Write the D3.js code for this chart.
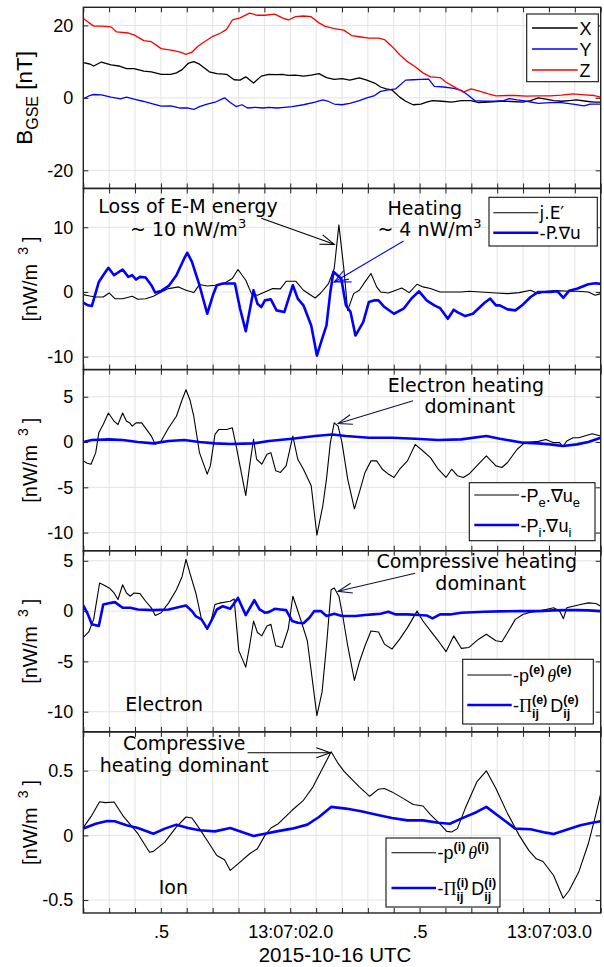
<!DOCTYPE html>
<html><head><meta charset="utf-8">
<script src="https://cdn.jsdelivr.net/npm/d3@7"></script>
<style>body{margin:0;background:#fff}svg{display:block}</style>
</head><body><svg id="c" width="604" height="967"></svg>
<script>
// ---- time axis (seconds after 13:07:00 UTC, 2015-10-16) ----
const xDomain = [1.2, 3.2];
const xTickVals = [1.5, 2.0, 2.5, 3.0];
const xTickLabels = [".5", "13:07:02.0", ".5", "13:07:03.0"];
const xLabel = "2015-10-16 UTC";

// ---- panel 1: B GSE ----
const bxT = [1.200,1.225,1.240,1.270,1.307,1.337,1.367,1.396,1.434,1.463,1.501,1.538,1.560,1.582,1.605,1.627,1.649,1.687,1.716,1.754,1.783,1.806,1.828,1.858,1.888,1.917,1.947,1.969,1.992,2.021,2.051,2.081,2.111,2.140,2.170,2.200,2.230,2.267,2.296,2.326,2.349,2.371,2.393,2.423,2.446,2.475,2.505,2.527,2.550,2.587,2.624,2.661,2.699,2.728,2.766,2.810,2.855,2.899,2.929,2.959,2.988,3.018,3.048,3.078,3.107,3.144,3.175,3.200];
const bxV = [9.7,9.35,8.8,9.9,9.1,8.8,8.1,8.1,7.4,7.2,6.5,6.5,6.9,7.8,9.5,10.0,9.3,7.2,6.7,6.5,5.0,4.9,5.8,4.1,6.0,6.5,6.4,6.5,6.2,6.3,6.0,6.3,6.7,5.6,5.1,5.3,4.9,5.5,4.9,4.1,3.0,2.5,2.2,0.2,-0.93,-1.9,-1.7,-1.2,-0.75,-0.93,-1.2,-0.75,-0.75,-1.3,-1.2,-0.93,-1.0,-1.2,-0.75,0.0,-0.37,-0.75,-0.93,-0.75,-0.56,-0.93,-1.2,-1.2];
const byT = [1.200,1.225,1.240,1.270,1.307,1.344,1.367,1.396,1.434,1.472,1.501,1.538,1.575,1.605,1.627,1.649,1.679,1.709,1.746,1.768,1.791,1.813,1.835,1.865,1.895,1.917,1.947,1.977,2.007,2.051,2.096,2.126,2.148,2.170,2.200,2.230,2.267,2.296,2.326,2.349,2.379,2.408,2.446,2.475,2.505,2.535,2.557,2.594,2.632,2.661,2.684,2.713,2.751,2.795,2.825,2.847,2.877,2.914,2.959,3.004,3.048,3.093,3.135,3.159,3.200];
const byV = [-0.28,0.65,0.93,0.84,0.19,-0.28,0.19,-0.37,-1.0,-1.7,-2.3,-2.2,-2.8,-2.8,-3.2,-2.4,-1.7,-1.2,0.0,-1.3,-2.4,-1.9,-2.8,-2.6,-2.8,-2.6,-2.8,-2.6,-2.4,-1.9,-1.2,-0.56,-1.0,-1.7,-1.9,-1.5,-0.75,0.0,0.65,1.8,2.2,2.5,4.9,5.0,5.1,5.2,3.2,3.0,2.6,2.1,0.93,-0.75,-0.93,-0.93,-0.75,-0.19,-0.56,-0.93,-1.5,-1.3,-1.3,-1.7,-2.2,-1.7,-1.7];
const bzT = [1.200,1.240,1.270,1.307,1.329,1.374,1.396,1.434,1.463,1.501,1.545,1.575,1.597,1.620,1.642,1.664,1.701,1.731,1.754,1.776,1.806,1.843,1.873,1.902,1.940,1.969,1.992,2.021,2.051,2.081,2.111,2.133,2.170,2.207,2.237,2.274,2.304,2.341,2.364,2.393,2.423,2.453,2.483,2.513,2.542,2.580,2.602,2.632,2.669,2.699,2.728,2.766,2.795,2.840,2.870,2.914,2.959,3.004,3.048,3.093,3.138,3.175,3.200];
const bzV = [21.9,19.8,19.8,19.6,18.2,17.9,17.4,15.8,15.5,13.6,13.1,12.6,12.0,12.6,14.2,15.3,17.0,17.9,18.9,21.5,22.1,23.4,22.8,22.8,23.1,22.1,21.5,22.4,22.6,22.4,20.7,19.8,19.1,18.7,17.2,16.8,16.5,16.5,16.1,14.2,11.9,10.0,8.6,6.9,5.8,5.6,4.3,3.1,1.6,2.5,1.9,1.1,0.56,0.65,0.65,0.47,0.56,0.56,0.75,1.1,0.84,0.65,0.19];

// ---- panel 2: j.E' and -P.grad u ----
const jeT = [1.200,1.225,1.248,1.277,1.300,1.322,1.352,1.389,1.411,1.441,1.471,1.501,1.530,1.568,1.597,1.627,1.649,1.679,1.709,1.739,1.776,1.798,1.828,1.850,1.873,1.902,1.932,1.962,1.984,2.021,2.051,2.096,2.118,2.148,2.170,2.188,2.207,2.222,2.245,2.267,2.289,2.312,2.334,2.349,2.379,2.408,2.431,2.460,2.490,2.513,2.542,2.579,2.617,2.661,2.691,2.736,2.795,2.840,2.885,2.929,2.959,2.988,3.026,3.078,3.108,3.152,3.179,3.200];
const jeV = [-0.41,-0.62,-0.78,-0.78,-0.16,-1.04,-1.04,-0.67,-1.14,-1.04,-0.67,0.0,0.52,0.78,0.26,-0.10,1.14,0.93,1.04,1.19,2.07,3.47,1.81,-0.26,-0.52,0.0,0.52,0.47,1.66,1.66,0.26,-0.93,-0.16,1.30,3.63,10.36,3.63,-2.85,-0.26,0.26,1.55,2.85,0.78,0.0,-0.16,0.26,0.62,-0.10,1.19,0.78,0.52,0.0,0.0,0.0,0.10,0.0,-0.16,-0.26,-0.10,0.26,-0.26,0.10,0.21,0.10,0.10,0.0,-0.52,-0.26];
const pduT = [1.200,1.218,1.233,1.260,1.277,1.297,1.319,1.352,1.374,1.389,1.404,1.419,1.441,1.463,1.478,1.501,1.530,1.560,1.590,1.602,1.620,1.649,1.679,1.701,1.716,1.739,1.768,1.786,1.806,1.828,1.858,1.873,1.888,1.902,1.925,1.947,1.977,2.010,2.029,2.051,2.081,2.103,2.123,2.140,2.155,2.167,2.182,2.197,2.215,2.233,2.252,2.282,2.304,2.326,2.341,2.364,2.401,2.438,2.468,2.498,2.527,2.557,2.579,2.609,2.632,2.646,2.676,2.706,2.751,2.773,2.795,2.810,2.840,2.870,2.899,2.929,2.959,3.004,3.033,3.056,3.078,3.108,3.152,3.180,3.200];
const pduV = [-1.66,-2.07,-2.18,1.55,2.59,3.73,2.59,3.47,2.33,2.59,1.92,2.33,2.23,1.04,-0.10,0.16,0.93,2.59,5.18,6.06,4.66,1.04,-3.37,-0.52,1.04,1.30,1.30,1.30,-2.59,-6.06,0.26,-1.81,-2.33,-1.30,-1.14,-2.85,-3.11,1.04,-1.04,-2.07,-5.18,-9.84,-7.25,-5.18,0.0,3.11,2.59,2.07,-2.07,-3.11,-6.74,-4.66,-1.55,-1.30,-1.30,-2.33,-3.37,-2.59,-1.04,0.10,-1.30,-2.07,-2.49,-4.15,-2.75,-3.11,-3.73,-3.37,-1.66,-1.04,-2.07,-2.07,-2.69,-2.85,-1.97,-0.78,0.0,0.0,0.10,-0.9,0.2,0.5,1.2,1.35,1.25];

// ---- panel 3: -Pe.grad ue, -Pi.grad ui ----
const peT = [1.200,1.215,1.230,1.248,1.260,1.277,1.297,1.319,1.334,1.352,1.367,1.379,1.389,1.404,1.426,1.449,1.463,1.478,1.501,1.530,1.560,1.582,1.597,1.612,1.627,1.649,1.679,1.691,1.709,1.724,1.754,1.776,1.791,1.813,1.828,1.843,1.858,1.870,1.890,1.910,1.925,1.944,1.962,1.984,2.010,2.029,2.051,2.081,2.103,2.126,2.140,2.155,2.170,2.185,2.200,2.222,2.248,2.267,2.289,2.312,2.334,2.356,2.379,2.401,2.423,2.453,2.483,2.513,2.542,2.572,2.602,2.624,2.646,2.669,2.691,2.721,2.758,2.795,2.818,2.840,2.877,2.907,2.929,2.959,2.988,3.018,3.041,3.054,3.069,3.093,3.115,3.138,3.167,3.200];
const peV = [-2.08,-2.34,-2.45,-1.17,1.02,1.93,3.21,2.30,1.93,3.21,2.30,2.12,1.75,2.12,2.12,1.20,0.66,-0.26,0.11,1.57,2.85,4.67,5.77,4.67,2.85,-1.17,-3.54,-2.63,0.84,1.39,1.39,1.57,-0.44,-3.72,-5.91,-2.63,0.29,-1.90,-2.45,-1.35,-1.17,-3.18,-3.36,-2.63,0.66,-1.90,-3.00,-4.82,-10.29,-7.01,-4.09,-0.07,2.12,1.75,-0.07,-4.09,-7.37,-5.55,-3.36,-2.08,-2.08,-3.00,-3.54,-3.91,-3.00,-2.08,-0.26,-0.99,-1.72,-3.00,-3.91,-3.00,-3.72,-3.91,-3.54,-2.63,-1.53,-2.63,-2.81,-2.26,-0.80,-0.07,0.0,0.07,0.29,-0.07,-0.07,-0.51,0.11,0.47,0.47,0.66,0.91,0.66];
const piT = [1.200,1.233,1.300,1.352,1.411,1.471,1.530,1.590,1.649,1.709,1.768,1.858,1.917,2.007,2.096,2.163,2.215,2.304,2.393,2.483,2.572,2.661,2.758,2.810,2.899,2.959,3.004,3.054,3.108,3.152,3.200];
const piV = [0.0,0.22,0.29,0.22,0.0,-0.15,0.11,0.22,0.0,-0.15,-0.22,-0.15,0.11,0.36,0.66,0.84,0.66,0.47,0.47,0.36,0.22,0.29,0.66,0.36,-0.07,-0.15,-0.26,-0.44,-0.26,0.0,0.47];

// ---- panel 4: electron pressure-strain ----
const pthET = [1.200,1.221,1.240,1.263,1.277,1.300,1.319,1.334,1.352,1.367,1.382,1.396,1.419,1.441,1.463,1.478,1.501,1.530,1.560,1.582,1.597,1.612,1.635,1.657,1.679,1.694,1.709,1.731,1.768,1.783,1.801,1.828,1.843,1.858,1.873,1.890,1.910,1.925,1.944,1.969,1.992,2.010,2.021,2.044,2.066,2.103,2.123,2.140,2.158,2.170,2.188,2.203,2.222,2.248,2.267,2.289,2.312,2.341,2.364,2.393,2.423,2.453,2.490,2.513,2.542,2.572,2.602,2.632,2.661,2.691,2.728,2.758,2.795,2.818,2.840,2.870,2.899,2.929,2.959,2.988,3.018,3.041,3.056,3.069,3.093,3.122,3.152,3.182,3.200];
const pthEV = [-2.62,-2.07,-0.82,2.79,2.62,2.30,1.80,1.15,2.62,1.80,1.48,1.80,1.74,0.98,0.33,-0.43,-0.16,0.82,2.13,3.44,5.15,3.77,1.80,-0.82,-1.80,-0.98,0.66,0.82,0.98,1.21,-3.93,-5.57,-3.44,-0.98,-2.13,-2.46,-1.48,-1.31,-3.44,-3.61,-1.80,1.48,0.66,-1.15,-2.95,-10.39,-8.03,-3.44,2.13,2.30,1.48,-0.49,-3.44,-6.89,-5.08,-3.44,-1.97,-2.07,-3.28,-3.77,-2.79,-1.64,0.0,-0.98,-1.97,-2.95,-4.03,-2.46,-3.70,-3.61,-2.79,-2.30,-2.95,-3.05,-2.13,-0.82,-0.33,-0.10,0.0,0.16,0.33,0.0,-0.75,0.33,0.49,0.66,0.82,0.75,0.49];
const piDeT = [1.200,1.218,1.233,1.260,1.277,1.307,1.322,1.352,1.382,1.411,1.471,1.530,1.575,1.597,1.620,1.634,1.657,1.679,1.701,1.716,1.739,1.768,1.798,1.828,1.861,1.881,1.902,1.917,1.940,1.962,1.984,2.007,2.029,2.051,2.074,2.093,2.118,2.140,2.170,2.200,2.222,2.252,2.289,2.319,2.349,2.379,2.408,2.453,2.498,2.527,2.550,2.579,2.617,2.661,2.751,2.810,2.885,2.959,3.018,3.062,3.108,3.152,3.200];
const piDeV = [0.56,-0.33,-1.31,-1.48,0.66,0.82,0.89,0.33,0.33,0.16,0.10,0.16,0.43,0.56,0.0,-0.49,-0.82,-1.74,-0.66,0.16,0.49,0.23,1.31,-0.4,1.08,0.16,-0.16,-0.10,0.23,0.16,0.10,-0.98,-1.15,-1.21,-0.66,0.0,0.0,-0.49,-0.26,-0.49,-0.49,-0.49,-0.39,-0.33,-0.26,-0.07,-0.33,-0.33,-0.39,-0.43,-0.72,-0.33,-0.33,-0.16,-0.07,-0.03,0.0,0.0,0.07,0.10,0.10,0.07,0.0];

// ---- panel 5: ion pressure-strain ----
const pthIT = [1.200,1.233,1.263,1.285,1.319,1.352,1.411,1.456,1.471,1.515,1.560,1.597,1.620,1.649,1.687,1.716,1.746,1.768,1.798,1.843,1.873,1.902,1.925,1.954,2.007,2.051,2.088,2.118,2.158,2.185,2.207,2.267,2.307,2.341,2.364,2.393,2.438,2.475,2.513,2.542,2.572,2.605,2.624,2.646,2.676,2.721,2.758,2.795,2.840,2.885,2.922,2.951,2.977,3.018,3.055,3.078,3.115,3.152,3.182,3.200];
const pthIV = [0.06,0.155,0.26,0.253,0.258,0.155,0.013,-0.13,-0.124,-0.052,0.065,0.142,0.134,0.052,-0.065,-0.155,-0.189,-0.271,-0.220,-0.142,-0.103,0.0,0.057,0.090,0.194,0.271,0.375,0.491,0.646,0.556,0.496,0.375,0.302,0.357,0.362,0.336,0.284,0.238,0.227,0.160,0.103,0.031,0.026,0.052,0.207,0.413,0.499,0.362,0.168,0.0,-0.116,-0.181,-0.202,-0.310,-0.486,-0.426,-0.284,-0.065,0.168,0.323];
const piDiT = [1.200,1.248,1.292,1.322,1.367,1.411,1.471,1.515,1.560,1.605,1.649,1.709,1.768,1.813,1.858,1.902,1.947,2.007,2.066,2.111,2.158,2.215,2.274,2.334,2.393,2.453,2.513,2.572,2.617,2.661,2.721,2.758,2.810,2.870,2.929,2.988,3.018,3.062,3.122,3.167,3.200];
const piDiV = [0.052,0.090,0.111,0.109,0.078,0.057,0.013,0.052,0.083,0.057,0.039,0.031,0.057,0.026,-0.005,0.013,0.031,0.052,0.083,0.142,0.220,0.207,0.186,0.160,0.134,0.116,0.116,0.098,0.090,0.129,0.181,0.220,0.142,0.052,0.047,0.021,0.010,0.039,0.078,0.098,0.109];

// ---- y axes ----
const yDomains = [[-25,25],[-12,16],[-12,8],[-12,6],[-0.6,0.8]];
const yTicks = [[-20,0,20],[-10,0,10],[-10,-5,0,5],[-10,-5,0,5],[-0.5,0,0.5]];

// ---- annotations (data coordinates) ----
const annTexts = [
  {p:1,t:1.605,v:12.25,s:"Loss of E-M energy"},
  {p:1,t:1.605,v:8.65,s:"~ 10 nW/m",sup:"3"},
  {p:1,t:2.52,v:11.95,s:"Heating"},
  {p:1,t:2.538,v:8.65,s:"~ 4 nW/m",sup:"3"},
  {p:2,t:2.679,v:5.55,s:"Electron heating"},
  {p:2,t:2.694,v:3.2,s:"dominant"},
  {p:3,t:2.721,v:4.25,s:"Compressive heating"},
  {p:3,t:2.736,v:2.12,s:"dominant"},
  {p:3,t:1.5125,v:-9.93,s:"Electron"},
  {p:4,t:1.59,v:0.657,s:"Compressive"},
  {p:4,t:1.59,v:0.492,s:"heating dominant"},
  {p:4,t:1.548,v:-0.452,s:"Ion"}
];
const annArrows = [
  {p:1,t0:1.888,v0:11.4,t1:2.170,v1:7.36,c:"#000"},
  {p:1,t0:2.438,v0:7.88,t1:2.170,v1:1.55,c:"#0000ff"},
  {p:2,t0:2.475,v0:4.56,t1:2.185,v1:2.04,c:"#10104a"},
  {p:3,t0:2.483,v0:3.77,t1:2.185,v1:1.97,c:"#10104a"},
  {p:4,t0:1.835,v0:0.638,t1:2.155,v1:0.638,c:"#000"}
];

// ================= drawing =================
const svg = d3.select('#c');
const L = 83.3, R = 600.7, TOP = 7.3, BOT = 913, PH = (BOT - TOP) / 5;
const x = d3.scaleLinear().domain(xDomain).range([L, R]);
const minor = d3.range(12, 33).map(d => d / 10);
const SANS = "'Liberation Sans', Arial, Helvetica, sans-serif";
const DEJ = "'DejaVu Sans', sans-serif";
const SERIF = "'Liberation Serif', 'Times New Roman', serif";
const BLUE = "#0000ff", RED = "#ff0000";

const series = [
  [{t:bxT,v:bxV,c:"#000",w:1.3},{t:byT,v:byV,c:BLUE,w:1.3},{t:bzT,v:bzV,c:RED,w:1.3}],
  [{t:jeT,v:jeV,c:"#000",w:1.1},{t:pduT,v:pduV,c:BLUE,w:2.6}],
  [{t:peT,v:peV,c:"#000",w:1.1},{t:piT,v:piV,c:BLUE,w:2.6}],
  [{t:pthET,v:pthEV,c:"#000",w:1.1},{t:piDeT,v:piDeV,c:BLUE,w:2.6}],
  [{t:pthIT,v:pthIV,c:"#000",w:1.1},{t:piDiT,v:piDiV,c:BLUE,w:2.6}]
];

const defs = svg.append('defs');
function marker(id, color){
  defs.append('marker').attr('id', id).attr('viewBox', '-1 -7 17 14')
    .attr('refX', 14).attr('refY', 0).attr('markerWidth', 17).attr('markerHeight', 14)
    .attr('markerUnits', 'userSpaceOnUse').attr('orient', 'auto')
    .append('path').attr('d', 'M0,-5L14,0L0,5').attr('fill', 'none')
    .attr('stroke', color).attr('stroke-width', 1.1);
}

const ys = [];
for (let i = 0; i < 5; i++) {
  const top = TOP + i * PH, bot = top + PH;
  const y = d3.scaleLinear().domain(yDomains[i]).range([bot, top]);
  ys.push(y);
  const g = svg.append('g');
  defs.append('clipPath').attr('id', 'clip' + i).append('rect')
    .attr('x', L).attr('y', top).attr('width', R - L).attr('height', PH);
  // grid
  g.append('g').selectAll('line').data(minor.slice(1, -1)).join('line')
    .attr('x1', d => x(d)).attr('x2', d => x(d)).attr('y1', top).attr('y2', bot)
    .attr('stroke', '#e3e3e3').attr('stroke-width', 1);
  g.append('g').selectAll('line').data(yTicks[i]).join('line')
    .attr('x1', L).attr('x2', R).attr('y1', d => y(d)).attr('y2', d => y(d))
    .attr('stroke', '#e3e3e3').attr('stroke-width', 1);
  // lines
  const lg = g.append('g').attr('clip-path', `url(#clip${i})`);
  series[i].forEach(s => {
    const n = Math.min(s.t.length, s.v.length);
    const pts = d3.range(n).map(k => [s.t[k], s.v[k]]);
    lg.append('path').datum(pts)
      .attr('d', d3.line().x(d => x(d[0])).y(d => y(d[1])))
      .attr('fill', 'none').attr('stroke', s.c).attr('stroke-width', s.w)
      .attr('stroke-linejoin', 'round');
  });
  // axes (inside ticks on all four sides)
  const fmtX = d => { const k = xTickVals.findIndex(v => Math.abs(v - d) < 1e-6); return (i === 4 && k >= 0) ? xTickLabels[k] : ''; };
  const ax = [
    g.append('g').attr('transform', `translate(0,${bot})`).call(d3.axisBottom(x).tickValues(minor).tickSize(-5).tickSizeOuter(0).tickPadding(12).tickFormat(fmtX)),
    g.append('g').attr('transform', `translate(0,${top})`).call(d3.axisTop(x).tickValues(minor).tickSize(-5).tickSizeOuter(0).tickFormat('')),
    g.append('g').attr('transform', `translate(${L},0)`).call(d3.axisLeft(y).tickValues(yTicks[i]).tickSize(-5).tickSizeOuter(0).tickPadding(10).tickFormat(d => (i===4? d3.format('.1f')(d).replace('0.0','0') : d3.format('d')(d)).replace('\u2212','-'))),
    g.append('g').attr('transform', `translate(${R},0)`).call(d3.axisRight(y).tickValues(yTicks[i]).tickSize(-5).tickSizeOuter(0).tickFormat(''))
  ];
  ax.forEach(a => {
    a.select('.domain').remove();
    a.selectAll('line').attr('stroke', '#222').attr('stroke-width', 1);
    a.selectAll('text').attr('font-family', SANS).attr('font-size', 18).attr('fill', '#000');
  });
  // frame
  g.append('rect').attr('x', L).attr('y', top).attr('width', R - L).attr('height', PH)
    .attr('fill', 'none').attr('stroke', '#222').attr('stroke-width', 1.4);
  // y label
  const cy = (top + bot) / 2;
  if (i === 0) {
    const t = svg.append('text').attr('transform', `translate(32,${cy}) rotate(-90)`)
      .attr('text-anchor', 'middle').attr('font-family', SANS).attr('font-size', 22.5);
    t.append('tspan').text('B');
    t.append('tspan').attr('font-size', 16).attr('dy', 6).text('GSE');
    t.append('tspan').attr('dy', -6).text(' [nT]');
  } else {
    const t = svg.append('text').attr('transform', `translate(37,${cy}) rotate(-90)`)
      .attr('text-anchor', 'middle').attr('font-family', SANS).attr('font-size', 20);
    t.append('tspan').text('[nW/m');
    t.append('tspan').attr('font-size', 14).attr('dx', 9).attr('dy', -9).text('3');
    t.append('tspan').attr('dx', 5).attr('dy', 9).text(']');
  }
}

// x label
svg.append('text').attr('x', 335).attr('y', 962).attr('text-anchor', 'middle')
  .attr('font-family', SANS).attr('font-size', 20.5).text(xLabel);

// annotations
annArrows.forEach((a, k) => {
  marker('ah' + k, a.c);
  const y = ys[a.p];
  svg.append('line').attr('x1', x(a.t0)).attr('y1', y(a.v0)).attr('x2', x(a.t1)).attr('y2', y(a.v1))
    .attr('stroke', a.c).attr('stroke-width', 1.1).attr('marker-end', `url(#ah${k})`);
});
// small barb of the blue arrow in panel 2
svg.append('line').attr('x1', x(2.170)).attr('y1', ys[1](1.55)).attr('x2', x(2.237)).attr('y2', ys[1](1.55))
  .attr('stroke', BLUE).attr('stroke-width', 1.1);

annTexts.forEach(a => {
  const t = svg.append('text').attr('x', x(a.t)).attr('y', ys[a.p](a.v)).attr('text-anchor', 'middle')
    .attr('font-family', DEJ).attr('font-size', 19).attr('fill', '#000');
  t.append('tspan').text(a.s);
  if (a.sup) t.append('tspan').attr('font-size', 13).attr('dy', -8).text(a.sup);
});

// ---- legends ----
function rich(g, x0, yb, parts, base) {
  let cx = x0;
  parts.forEach(p => {
    if (p.sup !== undefined) {
      const a = g.append('text').attr('x', cx).attr('y', yb - 8).attr('font-family', SANS)
        .attr('font-size', 12.5).attr('font-weight', 'bold').text(p.sup);
      let w = a.node().getComputedTextLength();
      if (p.sub) {
        const b = g.append('text').attr('x', cx).attr('y', yb + 6).attr('font-family', SANS)
          .attr('font-size', 12.5).attr('font-weight', 'bold').text(p.sub);
        w = Math.max(w, b.node().getComputedTextLength());
      }
      cx += w + (p.gap || 0);
    } else {
      const a = g.append('text').attr('x', cx).attr('y', yb + (p.dy || 0))
        .attr('font-family', p.ff || base.ff).attr('font-size', p.fs || base.fs)
        .attr('font-style', p.it ? 'italic' : null).text(p.t);
      cx += a.node().getComputedTextLength();
    }
  });
}
function legend(box, rows) {
  const g = svg.append('g');
  g.append('rect').attr('x', box.x0).attr('y', box.y0).attr('width', box.x1 - box.x0).attr('height', box.y1 - box.y0)
    .attr('fill', '#fff').attr('stroke', '#111').attr('stroke-width', 1.1);
  rows.forEach(r => {
    g.append('line').attr('x1', box.lx0).attr('x2', box.lx1).attr('y1', r.y).attr('y2', r.y)
      .attr('stroke', r.c).attr('stroke-width', r.w);
    rich(g, box.tx, r.y + 6.5, r.parts, box.base);
  });
}
const baseS = {ff: SANS, fs: 18};
legend({x0:526.7,y0:14,x1:598.3,y1:81.7,lx0:532,lx1:577.7,tx:579.5,base:baseS}, [
  {y:28,c:"#000",w:1.3,parts:[{t:"X"}]},
  {y:49,c:BLUE,w:1.3,parts:[{t:"Y"}]},
  {y:70,c:RED,w:1.3,parts:[{t:"Z"}]}
]);
legend({x0:489,y0:197.3,x1:597.3,y1:246,lx0:493.3,lx1:538.3,tx:539.5,base:{ff:DEJ,fs:17}}, [
  {y:212.7,c:"#000",w:1.1,parts:[{t:"j.E\u2032"}]},
  {y:232.7,c:BLUE,w:2.6,parts:[{t:"-P.\u2207u"}]}
]);
legend({x0:469.3,y0:482.7,x1:595,y1:540.7,lx0:474.3,lx1:519,tx:520.5,base:baseS}, [
  {y:495,c:"#000",w:1.1,parts:[{t:"-P"},{t:"e",fs:13,dy:5},{t:".\u2207u"},{t:"e",fs:13,dy:5}]},
  {y:525,c:BLUE,w:2.6,parts:[{t:"-P"},{t:"i",fs:13,dy:5},{t:".\u2207u"},{t:"i",fs:13,dy:5}]}
]);
function presParts(sp) {
  return [
    [{t:"-p"},{t:" ",fs:6},{sup:sp,gap:3},{t:"\u03b8",ff:SERIF,it:true},{sup:sp}],
    [{t:"-"},{t:"\u03a0",ff:SERIF},{sup:sp,sub:"ij",gap:3},{t:"D"},{sup:sp,sub:"ij"}]
  ];
}
const pe = presParts("(e)"), pi = presParts("(i)");
legend({x0:462.7,y0:659.3,x1:593.3,y1:724,lx0:467.3,lx1:511.7,tx:513,base:baseS}, [
  {y:675,c:"#000",w:1.1,parts:pe[0]},
  {y:705,c:BLUE,w:2.6,parts:pe[1]}
]);
legend({x0:386,y0:838,x1:500,y1:907,lx0:391.5,lx1:436,tx:437.5,base:baseS}, [
  {y:852.7,c:"#000",w:1.1,parts:pi[0]},
  {y:888,c:BLUE,w:2.6,parts:pi[1]}
]);
</script>
</body></html>
